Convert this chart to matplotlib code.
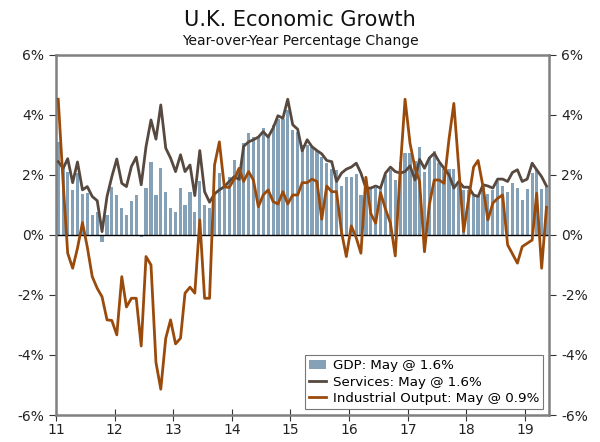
import matplotlib
matplotlib.use("Agg")
import matplotlib.pyplot as plt
import matplotlib.dates as mdates
import numpy as np
import pandas as pd

months = pd.date_range("2011-01-01", periods=101, freq="MS") + pd.Timedelta(days=14)

gdp = [3.1, 2.3, 2.1, 1.5, 2.05, 1.35, 1.4, 0.67, 0.75, -0.22,
       0.67, 1.6, 1.33, 0.9, 0.67, 1.13, 1.33, -0.08, 1.55, 2.44,
       1.33, 2.24, 1.44, 0.89, 0.78, 1.55, 1.0, 1.44, 0.78, 1.8,
       1.0, 0.89, 1.33, 2.06, 1.7, 1.94, 2.5, 2.2, 3.06, 3.39,
       3.26, 3.25, 3.56, 3.3, 3.65, 3.85, 3.85, 4.15, 3.5, 3.42,
       3.0, 3.0, 2.92, 2.8, 2.6, 2.4, 2.2, 2.16, 1.63, 1.94,
       1.94, 2.04, 1.33, 1.44, 1.55, 1.55, 1.6, 2.0, 2.16, 1.83,
       2.44, 2.74, 2.74, 2.45, 2.94, 2.11, 2.6, 2.81, 2.39, 2.19,
       2.19, 2.19, 1.8, 1.48, 1.5, 1.28, 1.3, 1.61, 1.37, 1.48,
       1.78, 1.63, 1.44, 1.74, 1.56, 1.17, 1.54, 2.06, 2.17, 1.52,
       1.59]

services = [2.44, 2.22, 2.54, 1.74, 2.43, 1.5, 1.61, 1.28, 1.14, 0.11,
            1.28, 1.94, 2.53, 1.72, 1.61, 2.28, 2.59, 1.67, 2.94, 3.83,
            3.19, 4.33, 2.89, 2.56, 2.11, 2.67, 2.11, 2.33, 1.31, 2.81,
            1.44, 1.09, 1.37, 1.5, 1.61, 1.78, 1.94, 1.85, 2.95, 3.1,
            3.17, 3.26, 3.44, 3.26, 3.56, 3.97, 3.89, 4.52, 3.67, 3.52,
            2.8, 3.17, 2.94, 2.81, 2.7, 2.48, 2.44, 1.78, 2.06, 2.19,
            2.26, 2.39, 2.06, 1.56, 1.56, 1.63, 1.56, 2.06, 2.26, 2.11,
            2.06, 2.11, 2.3, 1.83, 2.52, 2.22, 2.56, 2.72, 2.44, 2.22,
            2.0, 1.56, 1.78, 1.59, 1.59, 1.33, 1.28, 1.67, 1.63, 1.56,
            1.86, 1.86, 1.78, 2.08, 2.17, 1.78, 1.86, 2.39, 2.17, 1.94,
            1.63]

industrial = [4.52, 1.7, -0.61, -1.11, -0.44, 0.41, -0.4, -1.39, -1.78, -2.06,
              -2.83, -2.85, -3.33, -1.39, -2.4, -2.11, -2.11, -3.7, -0.72, -1.0,
              -4.25, -5.14, -3.44, -2.83, -3.63, -3.44, -1.94, -1.74, -1.94, 0.5,
              -2.11, -2.11, 2.33, 3.1, 1.6, 1.58, 1.85, 2.22, 1.78, 2.11,
              1.83, 0.94, 1.33, 1.5, 1.11, 1.03, 1.44, 1.03, 1.33, 1.33,
              1.74, 1.74, 1.86, 1.78, 0.52, 1.63, 1.44, 1.44, 0.1, -0.72,
              0.3, -0.1, -0.61, 1.92, 0.72, 0.39, 1.41, 0.86, 0.39, -0.7,
              2.2, 4.52, 3.05, 2.22, 1.8, -0.56, 1.0, 1.83, 1.83, 1.72,
              3.2, 4.38, 2.2, 0.11, 1.2, 2.26, 2.48, 1.6, 0.5, 1.06,
              1.22, 1.33, -0.33, -0.63, -0.94, -0.39, -0.28, -0.17, 1.39, -1.11,
              0.92]

years = pd.date_range("2011-01-01", "2019-01-01", freq="YS")
year_labels = ["11", "12", "13", "14", "15", "16", "17", "18", "19"]
yticks = [-6, -4, -2, 0, 2, 4, 6]

fig = plt.figure(figsize=(6, 4.42), dpi=100)
ax = fig.add_axes([0.0933, 0.061, 0.822, 0.815])

b = ax.bar(months, gdp, width=20, color="#85A1B8", label="GDP: May @ 1.6%", zorder=2)
l1, = ax.plot(months, services, color="#57493F", lw=2.0, label="Services: May @ 1.6%", zorder=3)
l2, = ax.plot(months, industrial, color="#9A4B0C", lw=2.0, label="Industrial Output: May @ 0.9%", zorder=4)
ax.axhline(0, color="black", lw=1, zorder=2.5)

ax.set_xlim(pd.Timestamp("2011-01-01"), pd.Timestamp("2019-06-01"))
ax.set_ylim(-6, 6)
ax.set_xticks(years)
ax.set_xticklabels(year_labels)
ax.set_yticks(yticks)
ax.set_yticklabels([f"{v}%" for v in yticks])
ax.tick_params(axis="y", direction="out", length=5, labelsize=10, right=True, labelright=True,
               color="#333333", labelcolor="#222222")
ax.tick_params(axis="x", direction="inout", length=8, labelsize=10, color="#333333",
               labelcolor="#222222", pad=2)
for s in ax.spines.values():
    s.set_color("#808080")
    s.set_linewidth(1.8)

leg = ax.legend(handles=[b, l1, l2], loc="lower right", fontsize=9.6, frameon=True,
                fancybox=False, edgecolor="#555555", borderaxespad=0.45,
                handlelength=1.3, handletextpad=0.5, labelspacing=0.25, borderpad=0.3)
leg.get_frame().set_linewidth(0.8)

fig.text(0.5, 0.955, "U.K. Economic Growth", ha="center", va="center", fontsize=15, color="#111111")
fig.text(0.5, 0.908, "Year-over-Year Percentage Change", ha="center", va="center", fontsize=10, color="#111111")

fig.savefig("out.png", dpi=100)
